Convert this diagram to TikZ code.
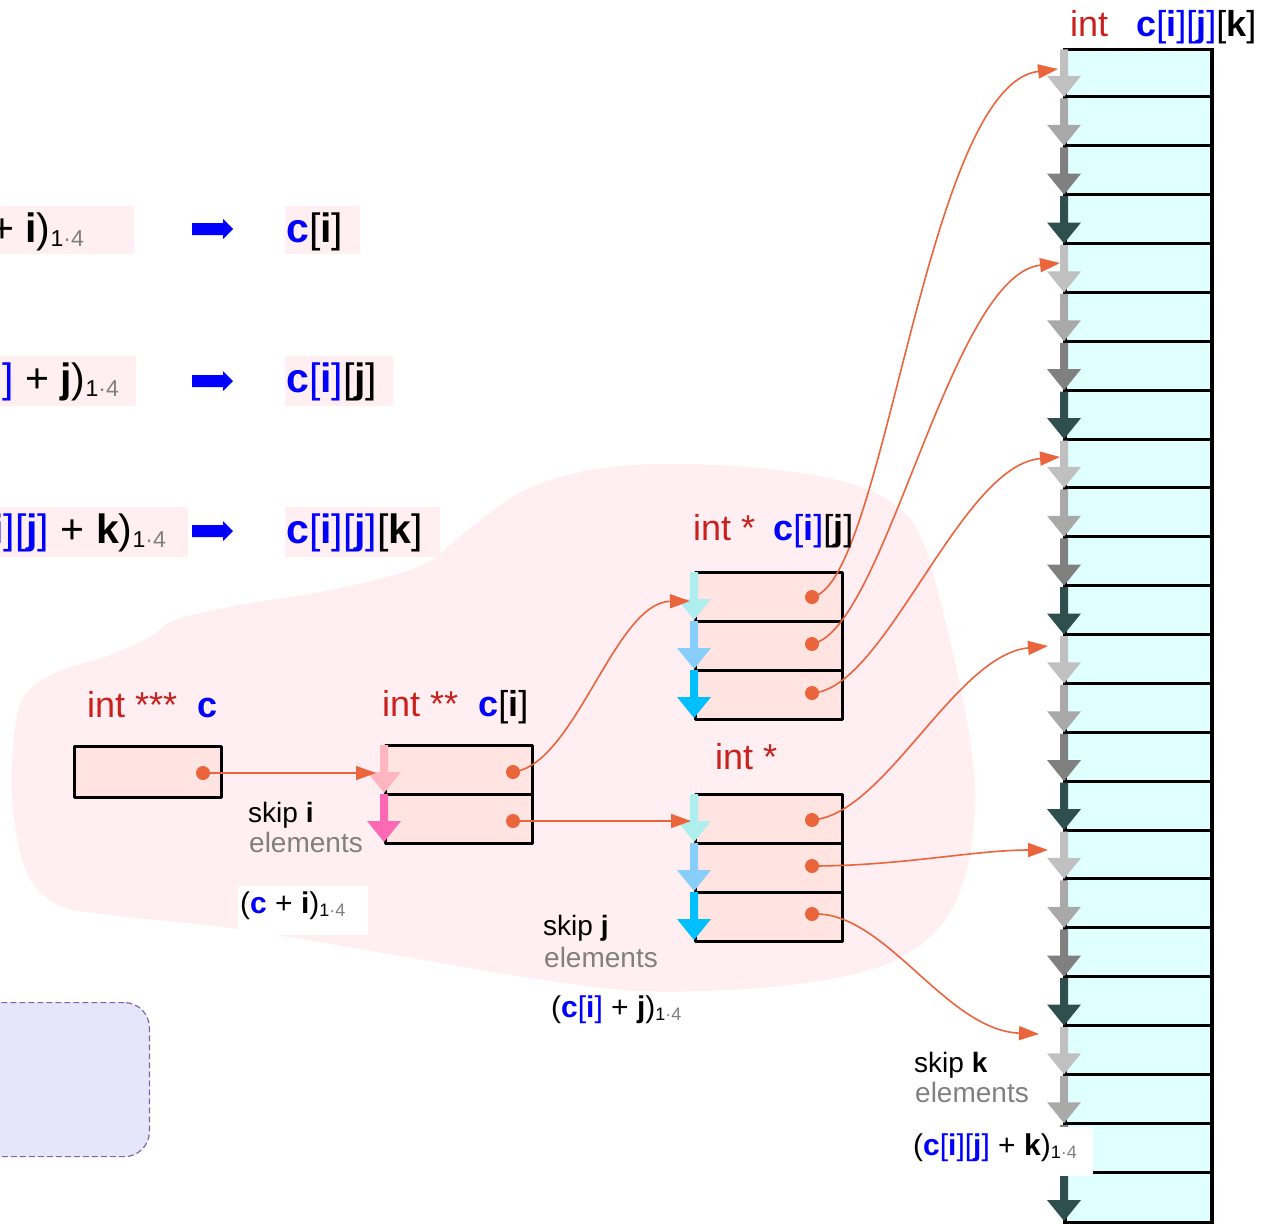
\documentclass[tikz,border=0pt]{standalone}
\usepackage{fontspec}
\setmainfont{Liberation Sans}
\usetikzlibrary{arrows.meta}
\definecolor{intred}{RGB}{201,33,30}
\definecolor{blobpink}{RGB}{255,238,242}
\definecolor{boxfill}{RGB}{255,228,225}
\definecolor{arrcyan}{RGB}{224,255,255}
\definecolor{ptr}{RGB}{234,100,60}
\definecolor{gA}{RGB}{192,192,192}
\definecolor{gB}{RGB}{169,169,169}
\definecolor{gC}{RGB}{128,128,128}
\definecolor{gD}{RGB}{47,79,79}
\definecolor{pkA}{RGB}{255,182,193}
\definecolor{pkB}{RGB}{255,105,180}
\definecolor{blA}{RGB}{175,238,238}
\definecolor{blB}{RGB}{135,206,250}
\definecolor{blC}{RGB}{0,191,255}
\definecolor{lav}{RGB}{230,230,250}
\definecolor{lavline}{RGB}{128,100,180}
\definecolor{subgray}{RGB}{128,128,128}
\newcommand\cB{\textcolor{blue}{\textbf{c}}}
\newcommand\bIx[1]{\textcolor{blue}{[\textbf{#1}]}}
\newcommand\kIx[1]{[\textbf{#1}]}
\newcommand\subq[1]{\raisebox{-0.1em}{\fontsize{#1}{#1}\selectfont 1\textcolor{subgray}{·4}}}
\newcommand\fsA{\fontsize{41}{45}\selectfont}
\newcommand\fsT{\fontsize{36}{40}\selectfont}
\newcommand\fsM{\fontsize{30}{34}\selectfont}
\newcommand\fsS{\fontsize{28}{32}\selectfont}
\newcommand\skiparr[4]{%
  \fill[#1] ({#2-4},{#3}) -- ({#2+4},{#3}) -- ({#2+4},{#4-21}) -- ({#2+17},{#4-21}) -- ({#2},{#4}) -- ({#2-17},{#4-21}) -- ({#2-4},{#4-21}) -- cycle;}
\newcommand\bluearr[2]{%
  \fill[blue] (#1,{#2-6}) -- ({#1+31},{#2-6}) -- ({#1+31},{#2-10}) -- ({#1+41},{#2}) -- ({#1+31},{#2+10}) -- ({#1+31},{#2+6}) -- (#1,{#2+6}) -- cycle;}
\tikzset{
  ptrbox/.style={draw=black, line width=3pt, fill=boxfill, minimum width=147pt, minimum height=49pt, inner sep=0pt, anchor=north west, line join=round},
  ptrdot/.style={circle, fill=ptr, inner sep=0pt, minimum size=14pt},
  ptrarrow/.style={draw=ptr, line width=1.6pt, -{Triangle[length=20pt,width=14pt]}},
  txt/.style={inner sep=0pt, anchor=base west},
  lblbg/.style={fill=blobpink, inner sep=0pt, anchor=north west},
  whitebg/.style={fill=white, inner sep=0pt, anchor=north west},
}
\begin{document}
\begin{tikzpicture}[x=1pt,y=-1pt]
\useasboundingbox (0,0) rectangle (1273,1223);
% background blob
\fill[blobpink] plot[smooth cycle, tension=0.6] coordinates {(12,760) (22,700) (55,673) (110,655) (150,637) (175,620) (240,605) (330,590) (420,566) (470,528) (525,490) (590,470) (665,464) (760,468) (845,482) (895,505) (922,540) (945,620) (965,710) (975,790) (968,865) (945,920) (905,955) (850,975) (760,988) (640,991) (530,978) (400,956) (237,929) (110,915) (58,905) (28,875) (14,820)};
% top rows label backgrounds
\node[lblbg, minimum width=164pt, minimum height=48pt] (bgl1) at (-30,206) {};
\node[lblbg, minimum width=75pt, minimum height=48pt] (bgr1) at (285,206) {};
\node[lblbg, minimum width=166pt, minimum height=50pt] (bgl2) at (-30,356) {};
\node[lblbg, minimum width=108pt, minimum height=50pt] (bgr2) at (285,356) {};
\node[lblbg, minimum width=218pt, minimum height=50pt] (bgl3) at (-30,507) {};
\node[lblbg, minimum width=155pt, minimum height=50pt] (bgr3) at (285,507) {};
% top rows texts
\node[inner sep=0pt, anchor=base east, font=\fsA] (l1) at (84,242) {(\cB{} + \textbf{i})\subq{23}};
\node[inner sep=0pt, anchor=base east, font=\fsA] (l2) at (119,392) {(\cB\bIx{i} + \textbf{j})\subq{23}};
\node[inner sep=0pt, anchor=base east, font=\fsA] (l3) at (166,543) {(\cB\bIx{i}\bIx{j} + \textbf{k})\subq{23}};
\node[txt, font=\fsA] (r1) at (286,242) {\cB\kIx{i}};
\node[txt, font=\fsA] (r2) at (286,392) {\cB\bIx{i}\kIx{j}};
\node[txt, font=\fsA] (r3) at (286,543) {\cB\bIx{i}\bIx{j}\kIx{k}};
\bluearr{192}{229}
\bluearr{192}{381}
\bluearr{192}{531}
% dashed note box
\node[draw=lavline, line width=1.2pt, dash pattern=on 6pt off 3pt, fill=lav, rounded corners=25pt, minimum width=200pt, minimum height=154pt, inner sep=0pt, anchor=north east] (note) at (150,1002) {};
% array of int
\node[draw=black, line width=3.5pt, fill=arrcyan, minimum width=147pt, minimum height=1173pt, inner sep=0pt, anchor=north west] (arr) at (1063,48) {};
\foreach \k in {1,...,23} {
  \pgfmathsetmacro\yy{48+\k*48.875}
  \draw[line width=3pt] (1063,\yy) -- (1210,\yy);
}
\foreach \k in {0,...,23} {
  \pgfmathsetmacro\yt{48+\k*48.875+1.5}
  \pgfmathsetmacro\yb{48+(\k+1)*48.875}
  \pgfmathtruncatemacro\m{mod(\k,4)}
  \ifcase\m \def\cc{gA}\or\def\cc{gB}\or\def\cc{gC}\or\def\cc{gD}\fi
  \skiparr{\cc}{1064}{\yt}{\yb}
}
% pointer boxes
\node[ptrbox, minimum height=51pt] (cbox) at (73,745) {};
\node[ptrbox] (pp0) at (384,744) {};
\node[ptrbox] (pp1) at (384,793) {};
\node[ptrbox] (pa0) at (694,571) {};
\node[ptrbox] (pa1) at (694,620) {};
\node[ptrbox] (pa2) at (694,669) {};
\node[ptrbox] (pb0) at (694,793) {};
\node[ptrbox] (pb1) at (694,842) {};
\node[ptrbox] (pb2) at (694,891) {};
\skiparr{pkA}{384}{745}{793}
\skiparr{pkB}{384}{794}{842}
\skiparr{blA}{694}{572}{620}
\skiparr{blB}{694}{621}{669}
\skiparr{blC}{694}{670}{718}
\skiparr{blA}{694}{794}{842}
\skiparr{blB}{694}{843}{891}
\skiparr{blC}{694}{892}{940}
% dots
\node[ptrdot] (dc) at (203,773) {};
\node[ptrdot] (dp0) at (513,772) {};
\node[ptrdot] (dp1) at (513,821) {};
\node[ptrdot] (da0) at (812,597) {};
\node[ptrdot] (da1) at (812,644) {};
\node[ptrdot] (da2) at (812,693) {};
\node[ptrdot] (db0) at (812,820) {};
\node[ptrdot] (db1) at (812,866) {};
\node[ptrdot] (db2) at (812,914) {};
% targets
\coordinate (tp0) at (376,773);
\coordinate (ta) at (690,601);
\coordinate (tb) at (691,821);
\coordinate (t0) at (1058,69);
\coordinate (t4) at (1060,263);
\coordinate (t8) at (1060,457);
\coordinate (t12) at (1048,646);
\coordinate (t16) at (1048,850);
\coordinate (t20) at (1039,1034);
% pointer arrows
\draw[ptrarrow] (dc.center) -- (tp0);
\draw[ptrarrow] (dp0.center) .. controls (575,765) and (615,602) .. (ta);
\draw[ptrarrow] (dp1.center) -- (tb);
\draw[ptrarrow] (da0.center) .. controls (885,585) and (925,85) .. (t0);
\draw[ptrarrow] (da1.center) .. controls (885,630) and (950,275) .. (t4);
\draw[ptrarrow] (da2.center) .. controls (885,690) and (960,465) .. (t8);
\draw[ptrarrow] (db0.center) .. controls (885,815) and (955,655) .. (t12);
\draw[ptrarrow] (db1.center) .. controls (900,866) and (975,850) .. (t16);
\draw[ptrarrow] (db2.center) .. controls (885,910) and (945,1030) .. (t20);
% type labels
\node[txt, font=\fsT] (tc) at (87,717) {\textcolor{intred}{int ***}\hspace{20pt}\cB};
\node[txt, font=\fsT] (tp) at (382,716) {\textcolor{intred}{int **}\hspace{20pt}\cB\kIx{i}};
\node[txt, font=\fsT] (ta2) at (693,540) {\textcolor{intred}{int *}\hspace{18pt}\cB\bIx{i}\kIx{j}};
\node[txt, font=\fsT] (tb2) at (715,769) {\textcolor{intred}{int *}};
\node[txt, font=\fsT] (tarr) at (1070,37) {\textcolor{intred}{int}\hspace{28pt}\cB\bIx{i}\bIx{j}\kIx{k}};
% skip labels
\node[txt, font=\fsS] (si) at (248,822) {skip \textbf{i}};
\node[txt, font=\fsS, text=subgray] (ei) at (249,852) {elements};
\node[txt, font=\fsS] (sj) at (543,935) {skip \textbf{j}};
\node[txt, font=\fsS, text=subgray] (ej) at (544,967) {elements};
\node[txt, font=\fsS] (sk) at (914,1072) {skip \textbf{k}};
\node[txt, font=\fsS, text=subgray] (ek) at (915,1102) {elements};
% address labels
\node[whitebg, minimum width=130pt, minimum height=49pt] (wci) at (238,886) {};
\node[txt, font=\fsM] (aci) at (240,913) {(\cB{} + \textbf{i})\subq{18}};
\node[txt, font=\fsM] (acj) at (551,1017) {(\cB\bIx{i} + \textbf{j})\subq{18}};
\node[whitebg, minimum width=183pt, minimum height=49pt] (wck) at (910,1127) {};
\node[txt, font=\fsM] (ack) at (913,1155) {(\cB\bIx{i}\bIx{j} + \textbf{k})\subq{18}};
\end{tikzpicture}
\end{document}
